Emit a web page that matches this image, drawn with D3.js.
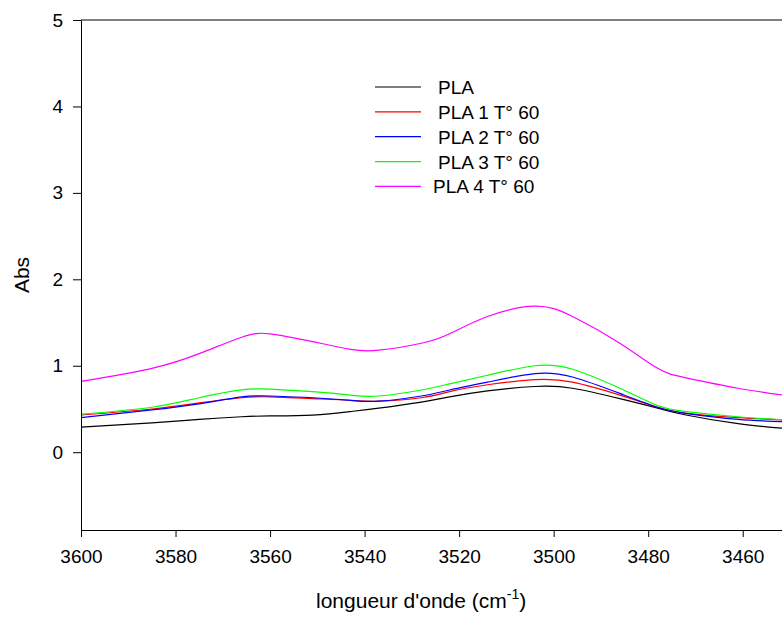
<!DOCTYPE html>
<html>
<head>
<meta charset="utf-8">
<script src="https://cdn.jsdelivr.net/npm/d3@7"></script>
<style>
  body { margin: 0; background: #fff; }
  svg { display: block; overflow: hidden; }
  text { font-family: "Liberation Sans", Arial, sans-serif; fill: #000; }
</style>
</head>
<body>
<div id="chart"></div>
<script>
// wavenumbers (cm-1)
var wave = [3600, 3585, 3575, 3566, 3560, 3551, 3543, 3537, 3528, 3522, 3514, 3504, 3496, 3486, 3478, 3472, 3461, 3450];

// absorbance of each sample
var pla  = [0.29, 0.34, 0.38, 0.41, 0.42, 0.43, 0.47, 0.51, 0.58, 0.64, 0.71, 0.76, 0.74, 0.62, 0.51, 0.43, 0.33, 0.27];
var pla1 = [0.43, 0.50, 0.57, 0.63, 0.64, 0.62, 0.60, 0.59, 0.63, 0.70, 0.78, 0.84, 0.81, 0.66, 0.52, 0.45, 0.40, 0.37];
var pla2 = [0.40, 0.49, 0.56, 0.64, 0.65, 0.63, 0.60, 0.59, 0.65, 0.72, 0.81, 0.91, 0.87, 0.68, 0.52, 0.45, 0.38, 0.35];
var pla3 = [0.44, 0.52, 0.63, 0.72, 0.73, 0.70, 0.66, 0.65, 0.72, 0.79, 0.89, 1.00, 0.96, 0.74, 0.54, 0.47, 0.41, 0.37];
var pla4 = [0.82, 0.97, 1.14, 1.33, 1.37, 1.28, 1.19, 1.18, 1.26, 1.37, 1.57, 1.69, 1.57, 1.26, 0.97, 0.86, 0.74, 0.65];

var names  = ["PLA", "PLA 1 T° 60", "PLA 2 T° 60", "PLA 3 T° 60", "PLA 4 T° 60"];
var colors = ["#000000", "#ff0000", "#0000ff", "#00ff00", "#ff00ff"];
var xTicks = [3600, 3580, 3560, 3540, 3520, 3500, 3480, 3460];
var yTicks = [0, 1, 2, 3, 4, 5];

var series = [pla, pla1, pla2, pla3, pla4];

var margin = {top: 20, left: 81},
    width = 709,
    height = 510;

var svg = d3.select("#chart")
    .append("svg")
    .attr("width", 782)
    .attr("height", 617);

var g = svg.append("g")
    .attr("transform", "translate(" + margin.left + "," + margin.top + ")");

var x = d3.scaleLinear().domain([3600, 3450]).range([0, width]);
var y = d3.scaleLinear().domain([-0.9, 5]).range([height, 0]);

// curves
var line = d3.line()
    .x(function(d) { return x(d[0]); })
    .y(function(d) { return y(d[1]); })
    .curve(d3.curveNatural);

series.forEach(function(s, i) {
    g.append("path")
        .datum(wave.map(function(w, j) { return [w, s[j]]; }))
        .attr("fill", "none")
        .attr("stroke", colors[i])
        .attr("stroke-width", 1.2)
        .attr("d", line);
});

// axes
var xAxis = g.append("g")
    .attr("transform", "translate(0," + height + ")")
    .call(d3.axisBottom(x).tickValues(xTicks).tickFormat(d3.format("d")).tickSizeInner(7).tickSizeOuter(0).tickPadding(13));

var yAxis = g.append("g")
    .call(d3.axisLeft(y).tickValues(yTicks).tickFormat(d3.format("d")).tickSizeInner(8).tickSizeOuter(0).tickPadding(10));

[xAxis, yAxis].forEach(function(a) {
    a.selectAll("text").style("font-size", "19px").attr("fill", "#000");
    a.selectAll("line").attr("stroke", "#000");
    a.select(".domain").attr("stroke", "#000");
});

// top frame line
g.append("line")
    .attr("x1", 0).attr("x2", width)
    .attr("y1", 0).attr("y2", 0)
    .attr("stroke", "#000");

// axis titles
svg.append("text")
    .attr("transform", "translate(29,275) rotate(-90)")
    .attr("text-anchor", "middle")
    .style("font-size", "21px")
    .text("Abs");

var xt = svg.append("text")
    .attr("x", 316)
    .attr("y", 608)
    .style("font-size", "21px");
xt.append("tspan").text("longueur d'onde (cm");
xt.append("tspan").attr("dy", -9).style("font-size", "14px").text("-1");
xt.append("tspan").attr("dy", 9).text(")");

// legend
var legend = svg.append("g").attr("transform", "translate(375,87)");
names.forEach(function(n, i) {
    var row = legend.append("g").attr("transform", "translate(0," + (i * 24.85) + ")");
    row.append("line")
        .attr("x1", 0).attr("x2", 46)
        .attr("stroke", colors[i])
        .attr("stroke-width", 1.2);
    row.append("text")
        .attr("x", i == 4 ? 58 : 63)
        .attr("y", 7)
        .style("font-size", "19px")
        .text(n);
});
</script>
</body>
</html>
